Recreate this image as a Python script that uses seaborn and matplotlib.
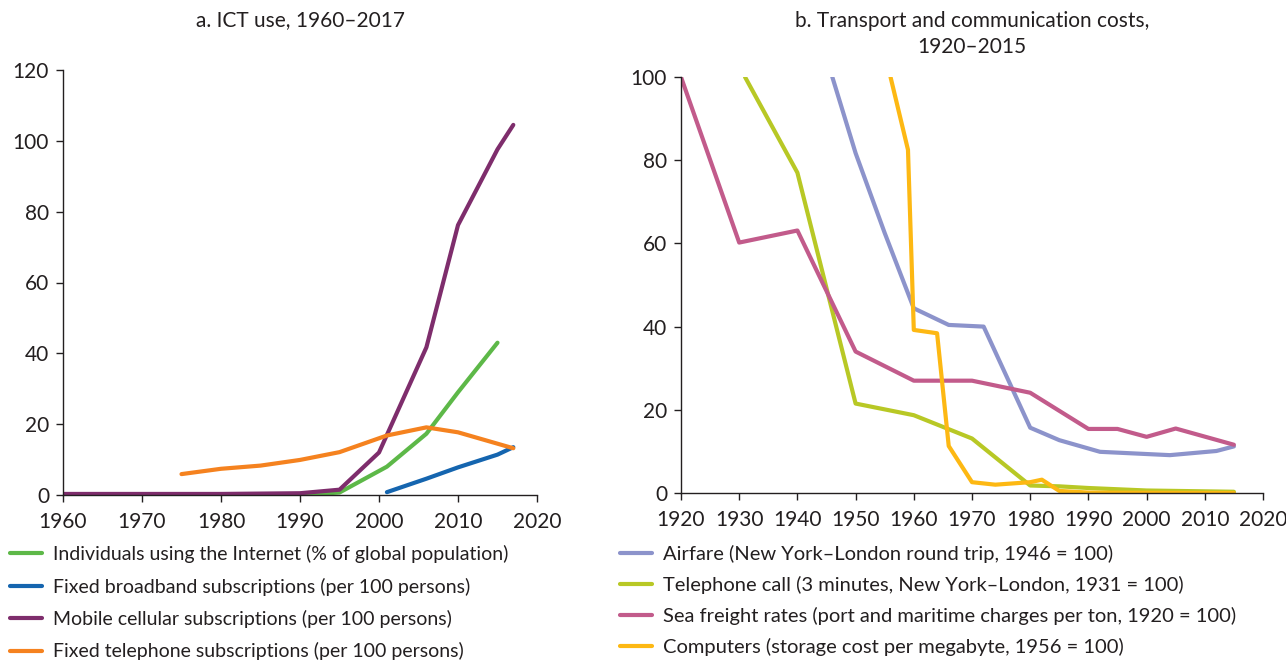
import numpy as np
import pandas as pd
import matplotlib
matplotlib.use("Agg")
import matplotlib.pyplot as plt
import seaborn as sns

# ---------------- data: panel a ----------------
internet_years = [1990, 1995, 2001, 2006, 2010, 2015]
internet_vals = [0.0, 0.7, 8.0, 17.3, 29.0, 43.0]
broadband_years = [2001, 2006, 2010, 2015, 2017]
broadband_vals = [0.8, 4.6, 7.8, 11.4, 13.5]
mobile_years = [1960, 1970, 1980, 1990, 1995, 2000, 2006, 2010, 2015, 2017]
mobile_vals = [0.3, 0.3, 0.3, 0.5, 1.5, 12.0, 41.7, 76.2, 97.6, 104.5]
fixedtel_years = [1975, 1980, 1985, 1990, 1995, 2001, 2006, 2010, 2017]
fixedtel_vals = [5.9, 7.4, 8.3, 9.9, 12.1, 16.8, 19.1, 17.7, 13.2]

labels_a = [
    "Individuals using the Internet (% of global population)",
    "Fixed broadband subscriptions (per 100 persons)",
    "Mobile cellular subscriptions (per 100 persons)",
    "Fixed telephone subscriptions (per 100 persons)",
]
colors_a = ["#5DB848", "#1565AF", "#7E2D6C", "#F5821F"]

# ---------------- data: panel b ----------------
airfare_years = [1946, 1950, 1955, 1960, 1966, 1972, 1980, 1985, 1992, 2004, 2012, 2015]
airfare_vals = [100, 81.7, 62.5, 44.4, 40.4, 40.0, 15.7, 12.7, 9.9, 9.1, 10.1, 11.2]
phone_years = [1931, 1940, 1950, 1960, 1970, 1980, 1985, 1990, 2000, 2015]
phone_vals = [100, 77, 21.5, 18.7, 13.1, 1.8, 1.6, 1.2, 0.6, 0.3]
freight_years = [1920, 1930, 1940, 1950, 1960, 1970, 1980, 1990, 1995, 2000, 2005, 2015]
freight_vals = [100, 60.2, 63.1, 34.0, 27.0, 27.0, 24.1, 15.4, 15.4, 13.5, 15.5, 11.6]
computer_years = [1956, 1959, 1960, 1964, 1966, 1970, 1974, 1980, 1982, 1985, 1990, 2015]
computer_vals = [100, 82.5, 39.2, 38.4, 11.3, 2.6, 2.0, 2.6, 3.2, 0.5, 0.1, 0.0]

labels_b = [
    "Airfare (New York\u2013London round trip, 1946 = 100)",
    "Telephone call (3 minutes, New York\u2013London, 1931 = 100)",
    "Sea freight rates (port and maritime charges per ton, 1920 = 100)",
    "Computers (storage cost per megabyte, 1956 = 100)",
]
colors_b = ["#8C93CB", "#B8C825", "#C25B8B", "#FDB813"]


def long_frame(series, labels):
    frames = []
    for (yrs, vals), lab in zip(series, labels):
        frames.append(pd.DataFrame({"year": yrs, "value": vals, "series": lab}))
    return pd.concat(frames, ignore_index=True)


df_a = long_frame([(internet_years, internet_vals), (broadband_years, broadband_vals),
                   (mobile_years, mobile_vals), (fixedtel_years, fixedtel_vals)], labels_a)
df_b = long_frame([(airfare_years, airfare_vals), (phone_years, phone_vals),
                   (freight_years, freight_vals), (computer_years, computer_vals)], labels_b)

sns.set_theme(style="white")
plt.rcParams["font.family"] = ["Lato", "DejaVu Sans"]
plt.rcParams["text.color"] = "#231F20"
plt.rcParams["xtick.color"] = "#231F20"
plt.rcParams["ytick.color"] = "#231F20"

fs_tick = 15
fs_title = 15

fig = plt.figure(figsize=(12.86, 6.66), dpi=100)
ax_a = fig.add_axes([63 / 1286, 1 - 495 / 666, (537 - 63) / 1286, (495 - 70) / 666])
ax_b = fig.add_axes([681 / 1286, 1 - 493 / 666, (1263 - 681) / 1286, (493 - 77) / 666])

sns.lineplot(data=df_a, x="year", y="value", hue="series", hue_order=labels_a,
             palette=colors_a, linewidth=3, ax=ax_a, sort=False, estimator=None)
sns.lineplot(data=df_b, x="year", y="value", hue="series", hue_order=labels_b,
             palette=colors_b, linewidth=3, ax=ax_b, sort=False, estimator=None)

for ax in (ax_a, ax_b):
    for s in ("top", "right"):
        ax.spines[s].set_visible(False)
    for s in ("left", "bottom"):
        ax.spines[s].set_color("#231F20")
        ax.spines[s].set_linewidth(1.0)
    ax.tick_params(axis="both", direction="out", length=5, width=1,
                   labelsize=fs_tick, bottom=True, left=True)
    ax.tick_params(axis="x", pad=7)
    ax.tick_params(axis="y", pad=5)
    ax.set_xlabel("")
    ax.set_ylabel("")
    ax.grid(False)

ax_a.set_xlim(1960, 2020)
ax_a.set_ylim(0, 120)
ax_a.set_xticks(range(1960, 2021, 10))
ax_a.set_yticks(range(0, 121, 20))

ax_b.set_xlim(1920, 2020)
ax_b.set_ylim(0, 100)
ax_b.set_xticks(range(1920, 2021, 10))
ax_b.set_yticks(range(0, 101, 20))

fig.text(300 / 1286, 1 - 20 / 666, "a. ICT use, 1960\u20132017", ha="center", va="center",
         fontsize=fs_title)
fig.text(972 / 1286, 1 - 34 / 666, "b. Transport and communication costs,\n1920\u20132015",
         ha="center", va="center", fontsize=fs_title, linespacing=1.38)

for ax, x0, fsl, sp in ((ax_a, 10 / 1286, 14, 0.74), (ax_b, 620 / 1286, 14.5, 0.64)):
    handles, labs = ax.get_legend_handles_labels()
    ax.get_legend().remove()
    fig.legend(handles, labs, loc="upper left", bbox_to_anchor=(x0, 1 - 545 / 666),
               frameon=False, fontsize=fsl, handlelength=32 / (fsl * 1.389),
               handletextpad=11 / (fsl * 1.389),
               labelspacing=sp, borderaxespad=0, borderpad=0)

fig.savefig("out.png", dpi=100, facecolor="white")
